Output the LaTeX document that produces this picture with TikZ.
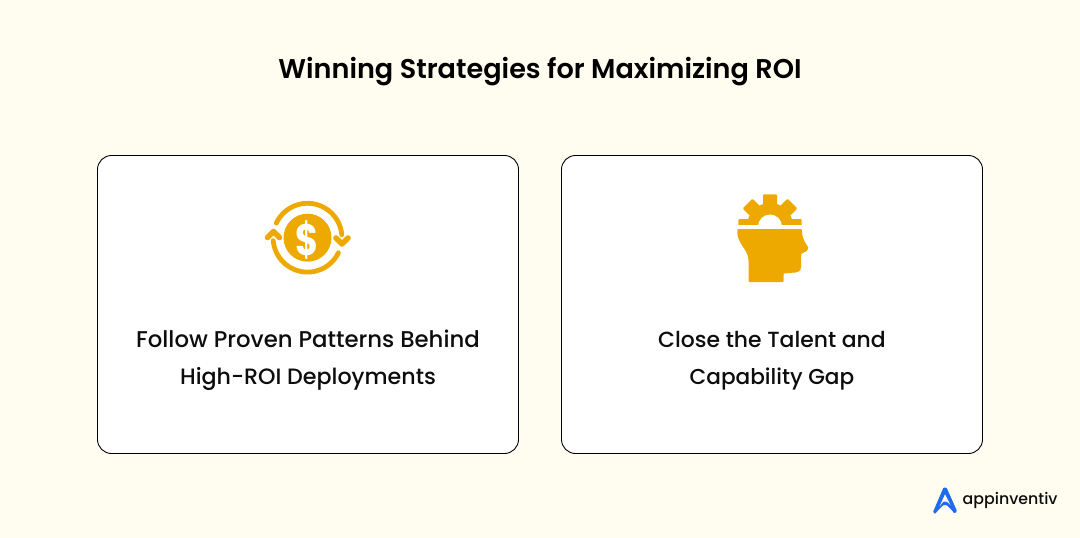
\documentclass[tikz,border=0pt]{standalone}
\usepackage{fontspec}
\setmainfont{Poppins}[UprightFont=*-Medium,BoldFont=*-SemiBold]
\newfontfamily\dollarfont{Poppins-Bold}
\definecolor{bgc}{HTML}{FFFDF0}
\definecolor{ico}{HTML}{EDA900}
\definecolor{blu}{HTML}{1F6BF0}
\newcommand{\fsz}[2]{{\fontsize{#1}{37}\selectfont #2}}
\tikzset{
 card/.style={draw=black,line width=0.9pt,fill=white,rounded corners=14pt,minimum width=421pt,minimum height=298pt,inner sep=0pt},
 lbl/.style={align=center,text=black!95,inner sep=0pt,font=\fontsize{22.4}{37}\selectfont},
 ring/.style={draw=ico,line width=4.8pt,line cap=round,line join=round},
 tip/.style={draw=ico,line width=5.6pt,line cap=round,line join=round},
}
\begin{document}
\begin{tikzpicture}[x=1pt,y=-1pt]
\useasboundingbox (0,0) rectangle (1080,538);
\fill[bgc] (0,0) rectangle (1080,538);
\node[font=\bfseries\fontsize{27.1}{30}\selectfont,inner sep=0pt] (title) at (540,72) {Winning Strategies for Maximizing ROI};
\node[card] (c1) at (308,304.5) {};
\node[card] (c2) at (772,304.5) {};
\node[lbl] (t1) at (308,360.5) {\fsz{22.8}{Follow Proven Patterns Behind}\\\fsz{22.2}{High-ROI Deployments}};
\node[lbl] (t2) at (772,360.5) {\fsz{21.9}{Close the Talent and}\\\fsz{21.6}{Capability Gap}};
% dollar icon
\fill[ico] (307.5,237.7) circle (24);
\node[font=\dollarfont\fontsize{44}{44}\selectfont,text=white,inner sep=0pt,transform shape,xscale=0.8] (dollar) at (307.5,239.5) {\$};
\draw[ring,smooth] plot[domain=205:355,samples=40] ({307.5+34.4*cos(\x)},{237.7+34.4*sin(\x)});
\draw[ring,smooth] plot[domain=26:175,samples=40] ({307.5+34.4*cos(\x)},{237.7+34.4*sin(\x)});
\draw[tip] (267.5,237.5) -- (273.5,231.5) -- (279.5,237.5);
\draw[tip] (336,238) -- (342,244) -- (348,238);
% head icon
\begin{scope}
\clip (730,190) rectangle (815,224.5);
\fill[ico] (770,226) circle (23);
\foreach \a in {-90,-45,0,45,90}{
  \fill[ico,rotate around={\a:(770,226)},rounded corners=1pt] (763,226) rectangle (777,194.3);
}
\fill[white] (770,226.5) circle (12);
\end{scope}
\fill[ico,rounded corners=0.8pt] (737.3,229) -- (801.7,229)
  .. controls (802,237) and (804,241) .. (808,247)
  .. controls (809,250) and (807,251) .. (801,254)
  -- (801,266) .. controls (801,271) and (798,272.5) .. (795,272.5)
  -- (783.5,273.5) -- (783.5,282) -- (748.5,282) -- (748.5,260)
  .. controls (748,250) and (737.3,243) .. (737.3,232) -- cycle;
% logo
\fill[blu,rounded corners=0.8pt,even odd rule] (943.5,487.5) -- (946.5,487.5) -- (957,511) -- (954.5,513.5)
  .. controls (950,508) and (947,505) .. (945,505)
  .. controls (943,505) and (939,509) .. (935,514) -- (933,512) -- cycle
  (945,494) -- (938.5,508.5) .. controls (941,505) and (943,501.5) .. (945,501.5) .. controls (947.5,501.5) and (949.5,504) .. (951.5,507) -- cycle;
\node[font=\fontsize{15.8}{20}\selectfont,anchor=base west,inner sep=0pt,text=black!95] (brand) at (962.5,504.5) {appinventiv};
\end{tikzpicture}
\end{document}
